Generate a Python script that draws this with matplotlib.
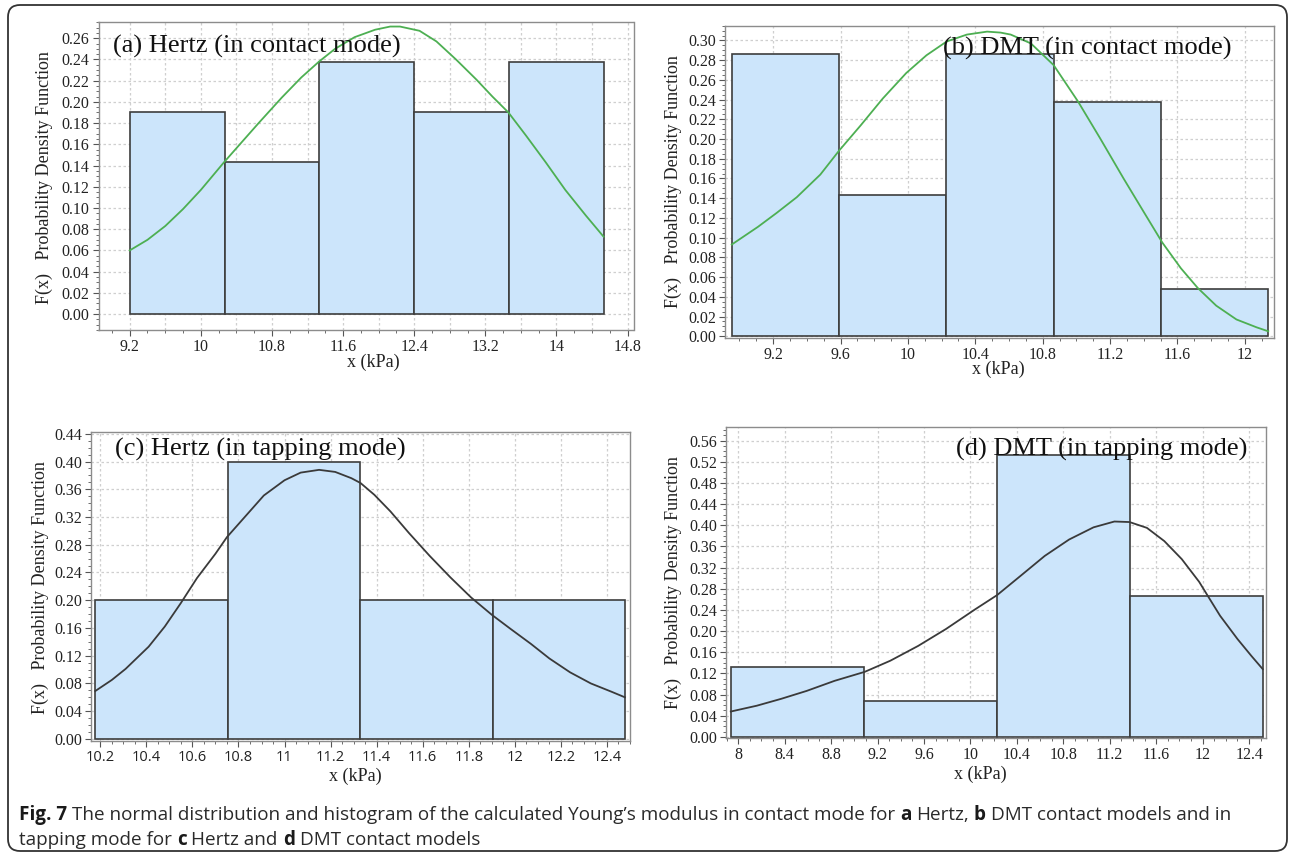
import numpy as np
import matplotlib
matplotlib.use("Agg")
import matplotlib.pyplot as plt
from matplotlib.ticker import FixedLocator, AutoMinorLocator, FuncFormatter, FormatStrFormatter
from matplotlib.patches import FancyBboxPatch

W, H = 1292, 855
plt.rcParams["font.family"] = ["Liberation Serif", "DejaVu Serif"]

# ---------------- data ----------------
# (a) Hertz, contact mode
a_edges = [9.2, 10.267, 11.333, 12.4, 13.467, 14.533]
a_freq = [0.190, 0.143, 0.238, 0.190, 0.238]
a_curve_x = [9.20, 9.40, 9.60, 9.80, 10.00, 10.13, 10.26, 10.46, 10.65, 10.91,
             11.13, 11.33, 11.51, 11.73, 11.96, 12.13, 12.24, 12.46, 12.65, 12.87,
             13.10, 13.28, 13.46, 13.66, 13.88, 14.10, 14.33, 14.53]
a_curve_y = [0.060, 0.070, 0.083, 0.099, 0.117, 0.130, 0.143, 0.162, 0.180, 0.204,
             0.223, 0.238, 0.250, 0.261, 0.268, 0.271, 0.271, 0.267, 0.257, 0.240,
             0.221, 0.205, 0.190, 0.168, 0.143, 0.117, 0.093, 0.073]
a_xticks = [9.2, 10, 10.8, 11.6, 12.4, 13.2, 14, 14.8]
a_yticks = [0.00, 0.02, 0.04, 0.06, 0.08, 0.10, 0.12, 0.14, 0.16, 0.18, 0.20, 0.22, 0.24, 0.26]

# (b) DMT, contact mode
b_edges = [8.954, 9.591, 10.228, 10.865, 11.502, 12.139]
b_freq = [0.286, 0.143, 0.286, 0.238, 0.048]
b_curve_x = [8.954, 9.11, 9.22, 9.34, 9.48, 9.59, 9.72, 9.85, 9.99, 10.11,
             10.23, 10.35, 10.47, 10.55, 10.61, 10.73, 10.865, 11.01, 11.14, 11.28,
             11.40, 11.51, 11.62, 11.72, 11.83, 11.95, 12.07, 12.139]
b_curve_y = [0.093, 0.111, 0.125, 0.141, 0.164, 0.188, 0.214, 0.241, 0.267, 0.285,
             0.299, 0.306, 0.309, 0.308, 0.306, 0.297, 0.275, 0.238, 0.201, 0.160,
             0.126, 0.095, 0.069, 0.049, 0.031, 0.017, 0.009, 0.005]
b_xticks = [9.2, 9.6, 10, 10.4, 10.8, 11.2, 11.6, 12]
b_yticks = [0.00, 0.02, 0.04, 0.06, 0.08, 0.10, 0.12, 0.14, 0.16, 0.18, 0.20,
            0.22, 0.24, 0.26, 0.28, 0.30]

# (c) Hertz, tapping mode
c_edges = [10.178, 10.753, 11.328, 11.903, 12.478]
c_freq = [0.2, 0.4, 0.2, 0.2]
c_curve_x = [10.178, 10.25, 10.31, 10.41, 10.48, 10.55, 10.62, 10.70, 10.75, 10.83,
             10.91, 11.00, 11.07, 11.15, 11.22, 11.29, 11.33, 11.39, 11.46, 11.54,
             11.63, 11.72, 11.81, 11.90, 11.98, 12.07, 12.15, 12.24, 12.33, 12.42, 12.478]
c_curve_y = [0.069, 0.085, 0.101, 0.133, 0.162, 0.196, 0.232, 0.267, 0.291, 0.321,
             0.351, 0.373, 0.384, 0.388, 0.385, 0.376, 0.369, 0.352, 0.328, 0.297,
             0.264, 0.233, 0.204, 0.179, 0.159, 0.137, 0.116, 0.096, 0.080, 0.068, 0.060]
c_xticks = [10.2, 10.4, 10.6, 10.8, 11, 11.2, 11.4, 11.6, 11.8, 12, 12.2, 12.4]
c_yticks = [0.00, 0.04, 0.08, 0.12, 0.16, 0.20, 0.24, 0.28, 0.32, 0.36, 0.40, 0.44]

# (d) DMT, tapping mode
d_edges = [7.936, 9.082, 10.227, 11.373, 12.518]
d_freq = [0.133, 0.067, 0.533, 0.267]
d_curve_x = [7.936, 8.16, 8.37, 8.59, 8.83, 9.09, 9.31, 9.55, 9.79, 10.04,
             10.23, 10.43, 10.64, 10.85, 11.06, 11.24, 11.37, 11.52, 11.67, 11.82,
             11.97, 12.04, 12.15, 12.30, 12.42, 12.518]
d_curve_y = [0.048, 0.059, 0.072, 0.087, 0.106, 0.123, 0.144, 0.172, 0.204, 0.241,
             0.268, 0.304, 0.342, 0.373, 0.396, 0.407, 0.406, 0.395, 0.370, 0.336,
             0.293, 0.268, 0.229, 0.185, 0.153, 0.128]
d_xticks = [8, 8.4, 8.8, 9.2, 9.6, 10, 10.4, 10.8, 11.2, 11.6, 12, 12.4]
d_yticks = [0.00, 0.04, 0.08, 0.12, 0.16, 0.20, 0.24, 0.28, 0.32, 0.36, 0.40,
            0.44, 0.48, 0.52, 0.56]

titles = ["(a) Hertz (in contact mode)", "(b) DMT (in contact mode)",
          "(c) Hertz (in tapping mode)", "(d) DMT (in tapping mode)"]
y_label = "F(x)   Probability Density Function"
x_label = "x (kPa)"

# ---------------- styling ----------------
BAR_FACE = "#cce5fb"
BAR_EDGE = "#3d3d3d"
GREEN = "#4daf52"
DARK = "#3a3a3a"
GRID = "#cfcfcf"
FRAME = "#8c8c8c"
TICKC = "#555555"

fig = plt.figure(figsize=(W / 100, H / 100), dpi=100)


def px_axes(left, top, right, bottom):
    return fig.add_axes([left / W, 1 - bottom / H, (right - left) / W, (bottom - top) / H])


def fmt_x(v, _pos):
    return "{:g}".format(round(v, 3))


def draw_panel(ax, edges, freq, cx, cy, color, xlim, ylim, xticks, yticks,
               xgrid_step, sans_xticks=False):
    edges = np.asarray(edges)
    ax.bar(edges[:-1], freq, width=np.diff(edges), align="edge",
           color=BAR_FACE, edgecolor=BAR_EDGE, linewidth=1.2, zorder=2)
    ax.plot(cx, cy, color=color, lw=1.3, zorder=3, solid_joinstyle="round")
    ax.set_xlim(*xlim)
    ax.set_ylim(*ylim)

    # dotted background grid
    gx = np.arange(xticks[0] - 4 * xgrid_step, xlim[1] + 1e-9, xgrid_step)
    gx = gx[(gx > xlim[0]) & (gx < xlim[1])]
    ax.vlines(gx, ylim[0], ylim[1], colors=GRID, linestyles=(0, (2, 2)), lw=0.9, zorder=1)
    gy = [v for v in yticks if ylim[0] < v < ylim[1]]
    ax.hlines(gy, xlim[0], xlim[1], colors=GRID, linestyles=(0, (2, 2)), lw=0.9, zorder=1)

    ax.xaxis.set_major_locator(FixedLocator(xticks))
    ax.yaxis.set_major_locator(FixedLocator(yticks))
    ax.xaxis.set_minor_locator(AutoMinorLocator(4))
    ax.yaxis.set_minor_locator(AutoMinorLocator(4))
    ax.xaxis.set_major_formatter(FuncFormatter(fmt_x))
    ax.yaxis.set_major_formatter(FormatStrFormatter("%.2f"))
    ax.tick_params(which="major", direction="out", length=4, width=0.8,
                   color=TICKC, pad=2.5, labelsize=11.5, labelcolor="#222222")
    ax.tick_params(which="minor", direction="out", length=2, width=0.6, color=TICKC)
    if sans_xticks:
        for lab in ax.get_xticklabels():
            lab.set_fontfamily(["Open Sans", "DejaVu Sans"])
            lab.set_fontsize(10.5)
    for sp in ax.spines.values():
        sp.set_color(FRAME)
        sp.set_linewidth(1.0)


ax_a = px_axes(98.5, 22.3, 633.5, 330)
draw_panel(ax_a, a_edges, a_freq, a_curve_x, a_curve_y, GREEN,
           (8.849, 14.867), (-0.015, 0.275), a_xticks, a_yticks, 0.4)

ax_b = px_axes(725, 25.7, 1274, 337.7)
draw_panel(ax_b, b_edges, b_freq, b_curve_x, b_curve_y, GREEN,
           (8.914, 12.173), (-0.0015, 0.315), b_xticks, b_yticks, 0.4)

ax_c = px_axes(91.3, 431.7, 630, 741)
draw_panel(ax_c, c_edges, c_freq, c_curve_x, c_curve_y, DARK,
           (10.161, 12.500), (-0.003, 0.443), c_xticks, c_yticks, 0.2, sans_xticks=True)

ax_d = px_axes(726, 427.3, 1265.7, 738)
draw_panel(ax_d, d_edges, d_freq, d_curve_x, d_curve_y, DARK,
           (7.895, 12.543), (-0.002, 0.585), d_xticks, d_yticks, 0.4)


def ftext(x, y, s, **kw):
    return fig.text(x / W, 1 - y / H, s, **kw)


# panel titles
title_pos = [(113, 46), (943, 48), (115, 449), (956, 449)]
for (tx, ty), t in zip(title_pos, titles):
    ftext(tx, ty, t, fontsize=19, ha="left", va="center", color="#111111", zorder=5)

# axis labels
ylab_pos = [(44, 178), (673, 182), (40, 588), (673, 583)]
for (lx, ly) in ylab_pos:
    ftext(lx, ly, y_label, fontsize=13, rotation=90, ha="center", va="center", color="#222222")
xlab_pos = [(373, 362), (998, 369), (355, 776), (980, 774)]
for (lx, ly) in xlab_pos:
    ftext(lx, ly, x_label, fontsize=13, ha="center", va="center", color="#222222")

# rounded frame around the figure
frame = FancyBboxPatch((0.08, 0.04), 12.79, 8.46,
                       boxstyle="round,pad=0,rounding_size=0.12",
                       transform=fig.dpi_scale_trans, fill=False,
                       edgecolor="#333333", linewidth=1.3)
fig.patches.append(frame)

# caption with bold panel letters
renderer = fig.canvas.get_renderer()
CAP_FONT = ["Open Sans", "DejaVu Sans"]

caption_lines = [
    [("Fig. 7", True), ("The normal distribution and histogram of the calculated Young\u2019s "
                        "modulus in contact mode for", False), ("a", True), ("Hertz,", False),
     ("b", True), ("DMT contact models and in", False)],
    [("tapping mode for", False), ("c", True), ("Hertz and", False), ("d", True),
     ("DMT contact models", False)],
]


def measure(s, bold, size):
    t = fig.text(0, 0, s, fontsize=size, family=CAP_FONT,
                 fontweight="bold" if bold else "normal")
    w = t.get_window_extent(renderer).width
    t.remove()
    return w


def line_width(pieces, size):
    sp = measure("a a", False, size) - measure("aa", False, size)
    return sum(measure(s, b, size) for s, b in pieces) + sp * (len(pieces) - 1)


# size the caption so that its first line runs across the frame
CAP_X0, CAP_X1 = 19.0, 1229.0
base = 12.0
cap_size = base * (CAP_X1 - CAP_X0) / line_width(caption_lines[0], base)
space_w = measure("a a", False, cap_size) - measure("aa", False, cap_size)

line_y = [815, 840]
for pieces, ly in zip(caption_lines, line_y):
    x = CAP_X0
    for s, bold in pieces:
        t = ftext(x, ly, s, fontsize=cap_size, family=CAP_FONT,
                  fontweight="bold" if bold else "normal", ha="left", va="center",
                  color="#1a1a1a" if bold else "#2a2a2a")
        x += t.get_window_extent(renderer).width + space_w

fig.savefig("out.png", dpi=100)
